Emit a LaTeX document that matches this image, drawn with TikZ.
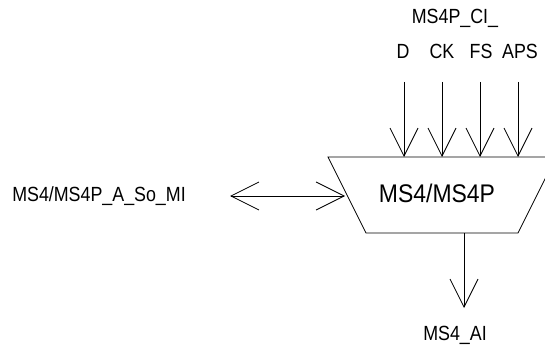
\documentclass[tikz,border=0pt]{standalone}
\usepackage{fontspec}
\setmainfont{Liberation Sans}[FakeStretch=0.87]
\newfontfamily\blockfont{Liberation Sans}[FakeStretch=0.9]
\usetikzlibrary{arrows.meta}
\tikzset{
  lbl/.style={font=\fontsize{20.5}{23}\selectfont, inner sep=0pt, anchor=base},
  mainlbl/.style={font=\blockfont\fontsize{25.5}{29}\selectfont, inner sep=0pt, anchor=base},
  sig/.style={line width=0.8pt, -{Straight Barb[length=28pt,width=28pt]}},
  box/.style={line width=0.8pt},
}
\begin{document}
\begin{tikzpicture}[x=1pt,y=-1pt]
\useasboundingbox (0,0) rectangle (545,347);
\clip (0,0) rectangle (545,347);
% trapezoid block
\coordinate (tl) at (328,157);
\coordinate (tr) at (556,157);
\coordinate (br) at (518,233);
\coordinate (bl) at (366,233);
\draw[box] (tl) -- (tr) -- (br) -- (bl) -- cycle;
\node[mainlbl] (blk) at (437,203) {MS4/MS4P};
% top inputs
\node[lbl] (ci) at (455,24) {MS4P\_CI\_};
\node[lbl] (d) at (403,59) {D};
\node[lbl] (ck) at (442,59) {CK};
\node[lbl] (fs) at (481,59) {FS};
\node[lbl] (aps) at (520,59) {APS};
\foreach \n/\x in {a/404,b/442,c/480,e/518}{
  \coordinate (s\n) at (\x,82);
  \coordinate (t\n) at (\x,157);
  \draw[sig] (s\n) -- (t\n);
}
% left bidirectional
\node[lbl] (so) at (99,201) {MS4/MS4P\_A\_So\_MI};
\coordinate (la) at (230,196);
\coordinate (lb) at (345,196);
\draw[line width=0.8pt, {Straight Barb[length=28pt,width=28pt]}-{Straight Barb[length=28pt,width=28pt]}] (la) -- (lb);
% bottom output
\coordinate (ob) at (464,233);
\coordinate (oe) at (464,308);
\draw[sig] (ob) -- (oe);
\node[lbl] (ai) at (455,340) {MS4\_AI};
\end{tikzpicture}
\end{document}
